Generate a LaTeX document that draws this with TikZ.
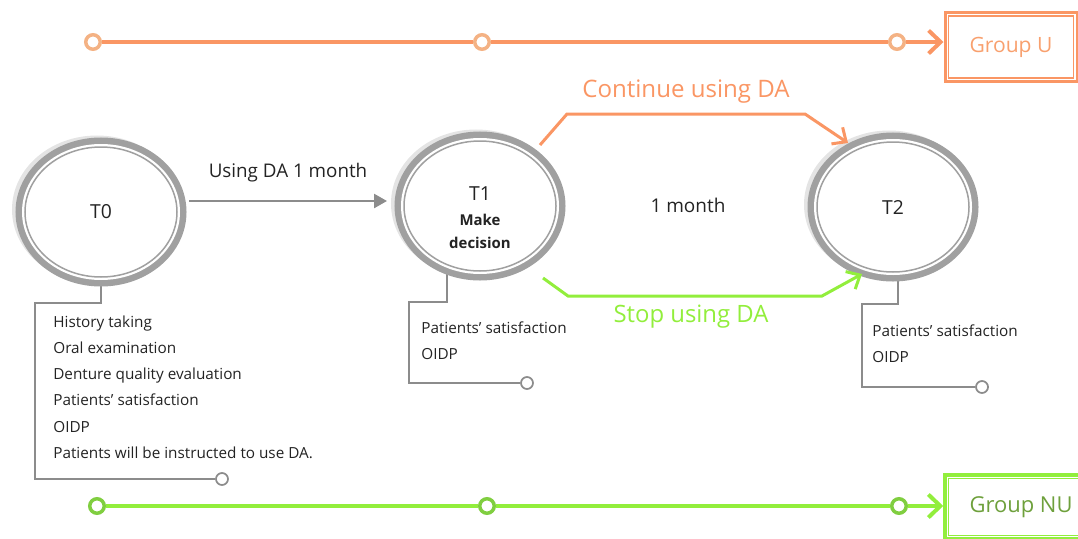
\documentclass[tikz,border=0pt]{standalone}
\usepackage{fontspec}
\setmainfont{Open Sans}
\usetikzlibrary{shapes.geometric,arrows.meta,backgrounds}
\definecolor{lineU}{RGB}{250,150,100}
\definecolor{dotU}{RGB}{244,178,132}
\definecolor{textU}{RGB}{248,160,110}
\definecolor{lineNU}{RGB}{146,238,60}
\definecolor{dotNU}{RGB}{128,206,64}
\definecolor{textNU}{RGB}{110,160,60}
\definecolor{ringgray}{RGB}{160,160,160}
\definecolor{ringshade}{RGB}{228,228,228}
\definecolor{linkgray}{RGB}{140,140,140}
\definecolor{ink}{RGB}{35,35,35}
\newcommand{\decfont}{\bfseries\fontsize{8.5}{11}\selectfont}

\begin{document}
\begin{tikzpicture}[x=0.2mm,y=-0.2mm,
    stage/.style={ellipse, inner sep=0pt, minimum width=30.4mm, minimum height=26mm,
        fill=white, draw=white, line width=1.2mm, text=ink, align=center,
        font=\fontsize{11}{13}\selectfont,
        preaction={draw=ringshade, line width=3.6mm, transform canvas={shift={(-0.8mm,0.5mm)}}},
        preaction={draw=ringgray, line width=3.8mm},
        postaction={draw=ringgray, line width=0.3mm}},
    dotU/.style={circle, draw=dotU, line width=0.7mm, fill=white, minimum size=2.9mm, inner sep=0pt},
    dotNU/.style={circle, draw=dotNU, line width=0.7mm, fill=white, minimum size=2.9mm, inner sep=0pt},
    endpt/.style={circle, draw=linkgray, line width=0.35mm, fill=white, minimum size=2.4mm, inner sep=0pt},
    bracket/.style={draw=linkgray, line width=0.4mm},
    notes/.style={anchor=north west, align=left, text=ink, inner sep=0pt,
        font=\fontsize{8.7}{14.8}\selectfont}]

    \clip (0,0) rectangle (1078,539);

    % timelines
    \foreach \n/\x in {1/93,2/482,3/897}
        \node[dotU] (u\n) at (\x,42) {};
    \foreach \n/\x in {1/97,2/487,3/899}
        \node[dotNU] (nu\n) at (\x,506) {};

    \node[draw=lineU, line width=0.6mm, minimum width=26.4mm, minimum height=13.8mm,
        text=textU, font=\fontsize{12}{14}\selectfont] (gu) at (1011,47) {Group U};
    \draw[lineU, line width=0.25mm] ([shift={(5,5)}]gu.north west) rectangle ([shift={(-5,-5)}]gu.south east);

    \node[draw=lineNU, line width=0.7mm, minimum width=30.4mm, minimum height=12.8mm,
        text=textNU, font=\fontsize{12.5}{14}\selectfont] (gnu) at (1021,507) {Group NU};
    \draw[lineNU, line width=0.25mm] ([shift={(5,5)}]gnu.north west) rectangle ([shift={(-5,-5)}]gnu.south east);

    \draw[lineU, line width=0.8mm] (u1) -- (u2) -- (u3);
    \draw[lineU, line width=0.8mm, -{Straight Barb[length=2.4mm,width=4.6mm]}] (u3) -- (u3 -| gu.west);
    \draw[lineNU, line width=0.8mm] (nu1) -- (nu2) -- (nu3);
    \draw[lineNU, line width=0.8mm, -{Straight Barb[length=2.4mm,width=4.6mm]}] (nu3) -- (nu3 -| gnu.west);

    % stages
    \node[stage] (t0) at (101,212) {T0};
    \node[stage] (t1) at (480,206) {\rule{0pt}{21pt}T1\\[1pt]{\decfont Make}\\{\decfont decision}};
    \node[stage] (t2) at (893,207) {T2};

    \draw[linkgray, line width=0.5mm, -{Triangle[length=2.6mm,width=2.8mm]}]
        ([shift={(9,-11)}]t0.east) -- ([shift={(-14,-5)}]t1.west)
        node[midway, above=7pt, font=\fontsize{10.7}{12}\selectfont, text=ink] {Using DA 1 month};
    \node[font=\fontsize{10.8}{12}\selectfont, text=ink] (gap) at (688,205) {1 month};

    \draw[lineU, line width=0.6mm, -{Straight Barb[length=2.2mm,width=4mm]}]
        ([shift={(60,-61)}]t1.center) -- (567,114) -- (805,114) -- ([shift={(-45,-64)}]t2.center);
    \node[text=lineU, font=\fontsize{13.7}{15}\selectfont] (cont) at (686,92) {Continue using DA};
    \draw[lineNU, line width=0.6mm, -{Straight Barb[length=2.2mm,width=4mm]}]
        ([shift={(63,72)}]t1.center) -- (568,296) -- (822,296) -- ([shift={(-31,67)}]t2.center);
    \node[text=lineNU, font=\fontsize{13.6}{15}\selectfont] (stop) at (691,317) {Stop using DA};

    % measurements
    \node[endpt] (e0) at (222,479) {};
    \node[endpt] (e1) at (527,383) {};
    \node[endpt] (e2) at (982,387) {};
    \begin{scope}[on background layer]
        \draw[bracket] (t0.center) |- (35,303) |- (e0);
        \draw[bracket] ([shift={(-33,0)}]t1.center) |- (409,302) |- (e1);
        \draw[bracket] ([shift={(5,0)}]t2.center) |- (862,304) |- (e2);
    \end{scope}
    \node[notes] (m0) at (53,316) {History taking\\Oral examination\\Denture quality evaluation\\
        Patients’ satisfaction\\OIDP\\Patients will be instructed to use DA.};
    \node[notes] (m1) at (421,321) {Patients’ satisfaction\\OIDP};
    \node[notes] (m2) at (872,324) {Patients’ satisfaction\\OIDP};

\end{tikzpicture}
\end{document}
